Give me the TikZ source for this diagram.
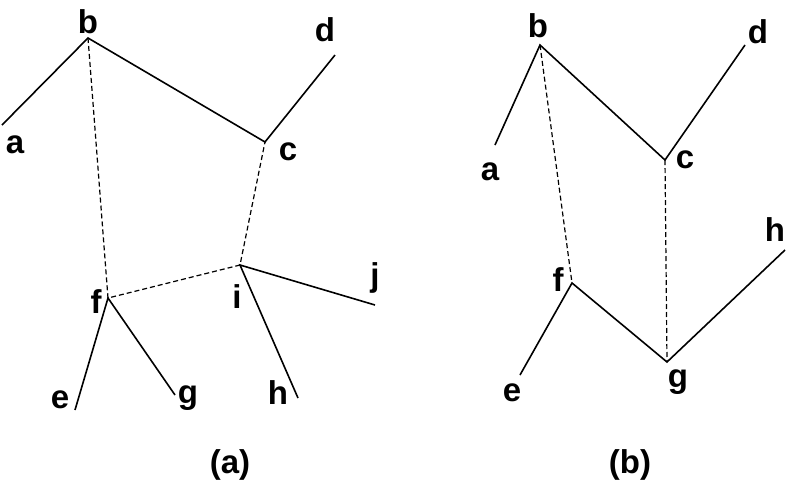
\documentclass[tikz,border=0pt]{standalone}
\usepackage{fontspec}
\setmainfont{Liberation Sans}
\begin{document}
\begin{tikzpicture}[x=1pt,y=-1pt,
  lab/.style={font=\fontsize{33}{38}\selectfont\bfseries,inner sep=0pt},
  sol/.style={line width=1.6pt},
  dsh/.style={line width=1.2pt,dash pattern=on 5pt off 3pt}]
\useasboundingbox (0,0) rectangle (792,491);
% (a)
\coordinate (Ab) at (88,38);
\coordinate (Aa) at (2,125);
\coordinate (Ac) at (265,142);
\coordinate (Ad) at (335,55);
\coordinate (Af) at (108,298);
\coordinate (Ai) at (240,265);
\coordinate (Ae) at (75,410);
\coordinate (Ag) at (175,395);
\coordinate (Ah) at (298,398);
\coordinate (Aj) at (375,305);
\draw[sol] (Aa)--(Ab)--(Ac)--(Ad);
\draw[dsh] (Ab)--(Af)--(Ai)--(Ac);
\draw[sol] (Ae)--(Af)--(Ag);
\draw[sol] (Ah)--(Ai)--(Aj);
\node[lab] (lAb) at (88,22) {b};
\node[lab] (lAa) at (15,145) {a};
\node[lab] (lAc) at (288,152) {c};
\node[lab] (lAd) at (325,30) {d};
\node[lab] (lAf) at (96,302) {f};
\node[lab] (lAi) at (237,297) {i};
\node[lab] (lAj) at (375,278) {j};
\node[lab] (lAe) at (60,400) {e};
\node[lab] (lAg) at (188,398) {g};
\node[lab] (lAh) at (278,393) {h};
\node[lab] (capa) at (230,465) {(a)};
% (b)
\coordinate (Bb) at (540,45);
\coordinate (Ba) at (495,145);
\coordinate (Bc) at (665,160);
\coordinate (Bd) at (745,45);
\coordinate (Bf) at (572,283);
\coordinate (Bg) at (667,362);
\coordinate (Bh) at (785,250);
\coordinate (Be) at (520,375);
\draw[sol] (Ba)--(Bb)--(Bc)--(Bd);
\draw[dsh] (Bb)--(Bf);
\draw[dsh] (Bc)--(Bg);
\draw[sol] (Be)--(Bf)--(Bg)--(Bh);
\node[lab] (lBb) at (538,26) {b};
\node[lab] (lBa) at (490,172) {a};
\node[lab] (lBc) at (685,160) {c};
\node[lab] (lBd) at (758,32) {d};
\node[lab] (lBf) at (558,280) {f};
\node[lab] (lBg) at (678,382) {g};
\node[lab] (lBh) at (775,230) {h};
\node[lab] (lBe) at (512,393) {e};
\node[lab] (capb) at (630,465) {(b)};
\end{tikzpicture}
\end{document}
